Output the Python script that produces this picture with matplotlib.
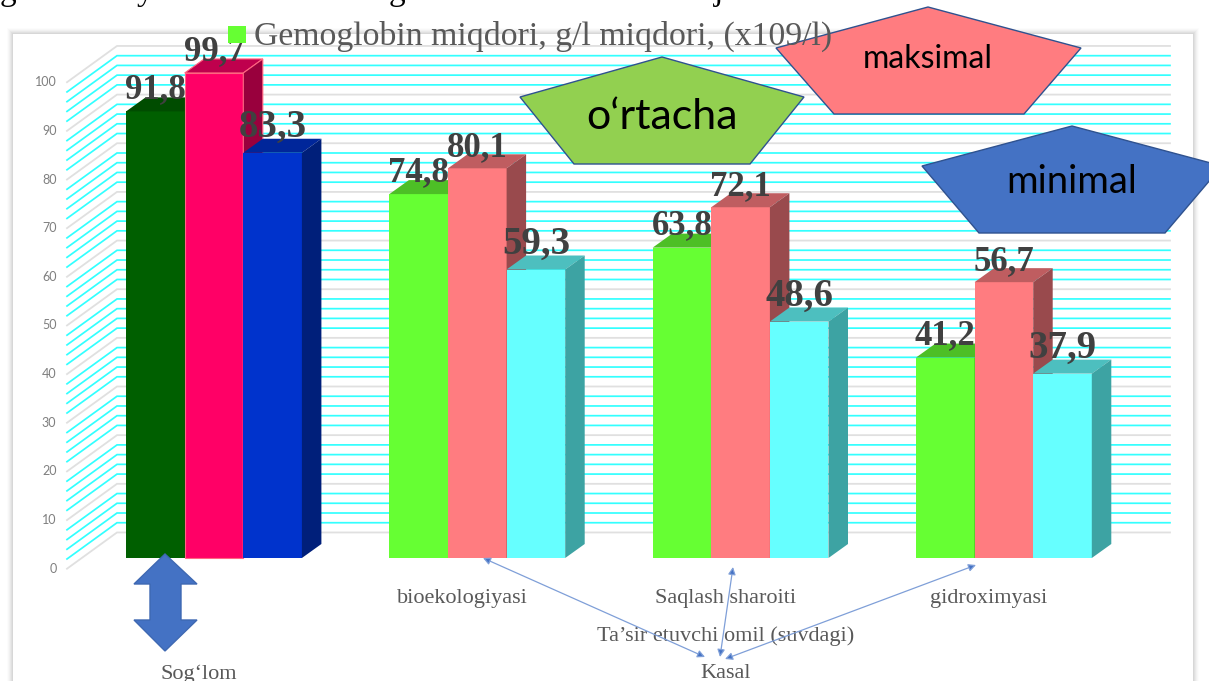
# Bar chart of hemoglobin values, with fake 3D bars and shapes on top
import matplotlib
matplotlib.use("Agg")
import matplotlib.pyplot as plt
from matplotlib.patches import Polygon, Rectangle

W, H = 1209, 681
PX_Y = 4.865   # pixels per value unit
PX_X = 263.3   # pixels per category
X0, Y0 = 214, 558   # pixel of first category centre and of value 0

categories = ["Sog‘lom", "bioekologiyasi", "Saqlash sharoiti", "gidroximyasi"]
ortacha = [91.8, 74.8, 63.8, 41.2]
maksimal = [99.7, 80.1, 72.1, 56.7]
minimal = [83.3, 59.3, 48.6, 37.9]
y_ticks = [0, 10, 20, 30, 40, 50, 60, 70, 80, 90, 100]
minor_ticks = [v for v in range(2, 100, 2) if v % 10 != 0]

legend_label = "Gemoglobin miqdori, g/l miqdori, (x109/l)"
group_title = "Ta’sir etuvchi omil (suvdagi)"
group_label = "Kasal"

# (front, top, side) colours, first column is the Sog'lom group
colors_ort = [("#005F00", "#004C00", "#003D00"), ("#66FF33", "#4DBF26", "#3D991F")]
colors_max = [("#FF0066", "#BF004D", "#99003D"), ("#FF7C80", "#BF5D60", "#994A4D")]
colors_min = [("#0033CC", "#00269A", "#001F7A"), ("#66FFFF", "#4DBFBF", "#3DA3A3")]

SERIF = "Liberation Serif"
GRAY = "#595959"

fig = plt.figure(figsize=(W / 100, H / 100), dpi=100, facecolor="white")

# background axes in pixels for the card
bg = fig.add_axes([0, 0, 1, 1], zorder=0)
bg.set_xlim(0, W)
bg.set_ylim(H, 0)
bg.axis("off")
for grow, alpha in [(6, 0.012), (5, 0.018), (4, 0.024), (3, 0.03), (2, 0.035), (1, 0.04)]:
    bg.add_patch(Rectangle((13 - grow, 34 - grow), 1180 + 2 * grow, 660,
                           fc="black", ec="none", alpha=alpha))
bg.add_patch(Rectangle((13, 34), 1180, 660, fc="white", ec="none"))

# chart axes: x in categories, y in values
ax = fig.add_axes([0, 0, 1, 1], zorder=1)
ax.set_xlim((0 - X0) / PX_X, (W - X0) / PX_X)
ax.set_ylim((Y0 - H) / PX_Y, Y0 / PX_Y)
ax.axis("off")

bar_w = 58.6 / PX_X
depth_x = 19.5 / PX_X
depth_y = 14 / PX_Y
wall_left = (67 - X0) / PX_X
wall_back = (117 - X0) / PX_X
wall_right = (1170 - X0) / PX_X
front_y = -2.2   # value 0 on the front edge of the side wall
back_y = 5.25    # value 0 on the back wall
label_shift = -15 / PX_X   # axis labels sit left of the group centre

for v in y_ticks:
    ax.plot([wall_left, wall_back, wall_right], [v + front_y, v + back_y, v + back_y],
            color="#E0E0E0", lw=1.3, zorder=1, solid_joinstyle="miter")
    ax.text(wall_left - 0.04, v + front_y, str(v), ha="right", va="center",
            fontsize=9, color="#7F7F7F", family="Lato", zorder=1)
for v in minor_ticks:
    ax.plot([wall_left, wall_back, wall_right], [v + front_y, v + back_y, v + back_y],
            color="#33FFFF", lw=1.25, zorder=1, solid_joinstyle="miter")


def draw_bar(x, value, cols, z, edge=None):
    ax.bar(x, value, width=bar_w, color=cols[0], zorder=z,
           edgecolor=edge if edge else cols[0], linewidth=0.8 if edge else 0)
    left, right = x - bar_w / 2, x + bar_w / 2
    ec = edge if edge else "none"
    lw = 0.8 if edge else 0
    ax.fill([left, left + depth_x, right + depth_x, right],
            [value, value + depth_y, value + depth_y, value], fc=cols[1], ec=ec, lw=lw, zorder=z)
    ax.fill([right, right + depth_x, right + depth_x, right],
            [0, depth_y, value + depth_y, value], fc=cols[2], ec=ec, lw=lw, zorder=z)


for i in range(len(categories)):
    k = 0 if i == 0 else 1
    draw_bar(i - bar_w, ortacha[i], colors_ort[k], 2)
    draw_bar(i, maksimal[i], colors_max[k], 3, edge="#FF6680" if i == 0 else None)
    draw_bar(i + bar_w, minimal[i], colors_min[k], 4)

label_rise = [22, 21, 25]  # pixels above the bar top
label_size = [25, 25, 28]
for i in range(len(categories)):
    for j, values in enumerate([ortacha, maksimal, minimal]):
        x = i + (j - 1) * bar_w
        y = values[i] + label_rise[j] / PX_Y
        ax.text(x, y, f"{values[i]:.1f}".replace(".", ","), ha="center", va="center",
                fontsize=label_size[j], fontweight="bold", family=SERIF, color="#404040", zorder=6)

# category labels sit at fixed pixel heights under the bars
for i, name in enumerate(categories):
    y_px = 674 if i == 0 else 598
    ax.text(i + label_shift, (Y0 - y_px) / PX_Y, name, ha="center", va="center",
            fontsize=16, family=SERIF, color=GRAY, zorder=6)
ax.text(2 + label_shift, (Y0 - 636) / PX_Y, group_title, ha="center", va="center",
        fontsize=16, family=SERIF, color=GRAY, zorder=6)
ax.text(2 + label_shift, (Y0 - 674) / PX_Y, group_label, ha="center", va="center",
        fontsize=16, family=SERIF, color=GRAY, zorder=6)

# overlay in pixels for the hand placed shapes
ov = fig.add_axes([0, 0, 1, 1], zorder=2)
ov.set_xlim(0, W)
ov.set_ylim(H, 0)
ov.axis("off")
ov.patch.set_alpha(0)

# heading cut off by the top of the picture, only the tails show
for x, ch in [(8, "g"), (145, "y"), (397, "g"), (719, "j")]:
    ov.text(x, 0, ch, ha="center", va="baseline", fontsize=24, family=SERIF, color="black", clip_on=False)

ov.add_patch(Rectangle((228, 26), 17.5, 17, fc="#66FF33", ec="none"))
ov.text(254, 36, legend_label, ha="left", va="center", fontsize=24.3, family=SERIF, color=GRAY)


def pentagon(cx, left, right, apex_y, side_y, low_y, low_left, low_right, color, label, size, text_y):
    pts = [(cx, apex_y), (right, side_y), (low_right, low_y), (low_left, low_y), (left, side_y)]
    ov.add_patch(Polygon(pts, closed=True, fc=color, ec="#2F528F", lw=1))
    ov.text(cx, text_y, label, ha="center", va="center", fontsize=size, family="Lato", color="black")


pentagon(662, 520, 804, 57, 97, 164, 574, 750, "#92D050", "o‘rtacha", 31, 117)
pentagon(928, 776, 1081, 7, 48, 114, 834, 1024, "#FF7C80", "maksimal", 23, 59)
pentagon(1072, 922, 1222, 126, 166, 233, 979, 1165, "#4472C4", "minimal", 27.5, 182)

# big double arrow under the first group
ov.add_patch(Polygon([(165, 554), (197, 584), (181, 584), (181, 620), (197, 620), (165, 651),
                      (134, 620), (150, 620), (150, 584), (134, 584)],
                     closed=True, fc="#4472C4", ec="#3E68B2", lw=1))

# thin arrows from Kasal to each factor
for start, end in [((483, 558), (705, 657)), ((733, 567), (720, 657)), ((976, 565), (725, 659))]:
    ov.annotate("", xy=start, xytext=end,
                arrowprops=dict(arrowstyle="<|-|>", fc="#4472C4", ec="#7F9FD8", lw=0.9,
                                mutation_scale=11, shrinkA=0, shrinkB=0))

fig.savefig("out.png", dpi=100)
